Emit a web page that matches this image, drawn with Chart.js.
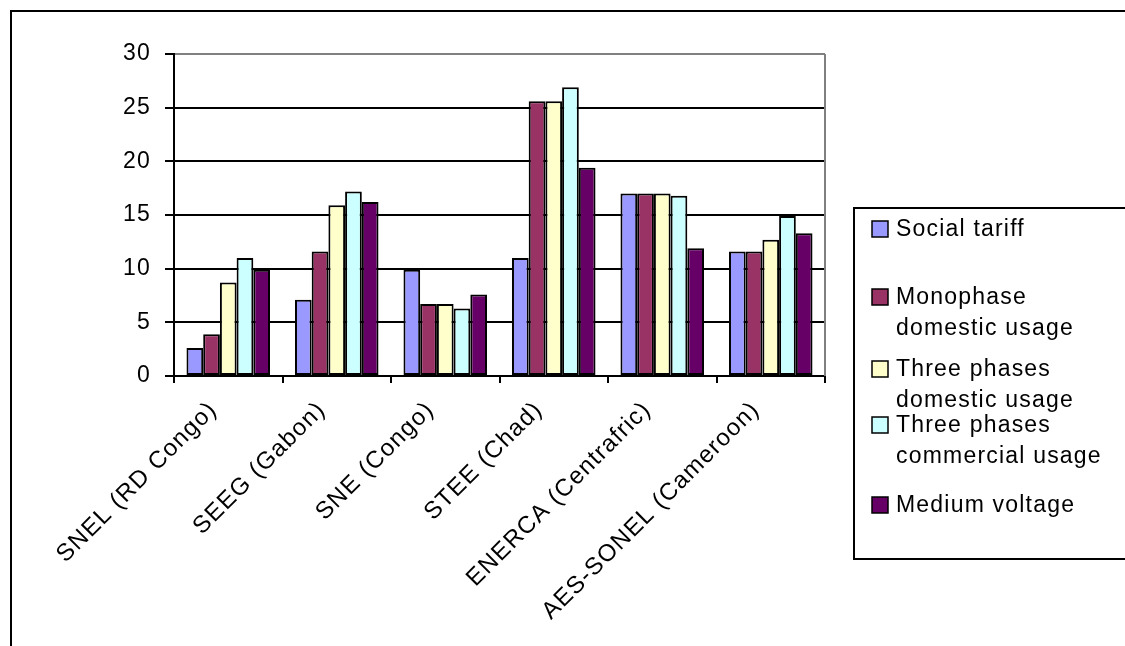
<!DOCTYPE html>
<html><head><meta charset="utf-8">
<script src="https://cdn.jsdelivr.net/npm/chart.js@4/dist/chart.umd.min.js"></script>
<style>html,body{margin:0;padding:0;background:#fff;overflow:hidden;}</style>
</head><body>
<canvas id="c" width="1125" height="646" style="display:block;width:1125px;height:646px"></canvas>
<script>
const categories = ['SNEL (RD Congo)', 'SEEG (Gabon)', 'SNE (Congo)', 'STEE (Chad)', 'ENERCA (Centrafric)', 'AES-SONEL (Cameroon)'];
const socialTariff = [2.6, 7.1, 9.9, 11.0, 17.0, 11.6];
const monophaseDomestic = [3.9, 11.6, 6.7, 25.6, 17.0, 11.6];
const threePhasesDomestic = [8.7, 15.9, 6.7, 25.6, 17.0, 12.7];
const threePhasesCommercial = [11.0, 17.2, 6.3, 26.9, 16.8, 14.9];
const mediumVoltage = [9.9, 16.2, 7.6, 19.4, 11.9, 13.3];
const yTicks = [0, 5, 10, 15, 20, 25, 30];
const seriesLines = [
  ['Social tariff'],
  ['Monophase', 'domestic usage'],
  ['Three phases', 'domestic usage'],
  ['Three phases', 'commercial usage'],
  ['Medium voltage']
];
const seriesValues = [socialTariff, monophaseDomestic, threePhasesDomestic, threePhasesCommercial, mediumVoltage];
const seriesColors = ['#9999FF', '#993366', '#FFFFCC', '#CCFFFF', '#660066'];

const FONT = "'Liberation Sans', Arial, sans-serif";
const SPACING = '1.2px';

const decorPlugin = {
  id: 'decor',
  beforeDraw(chart) {
    const ctx = chart.ctx;
    ctx.letterSpacing = SPACING;
    ctx.save();
    ctx.fillStyle = '#fff';
    ctx.fillRect(0, 0, chart.width, chart.height);
    ctx.strokeStyle = '#000';
    ctx.lineWidth = 2;
    ctx.strokeRect(11, 11, 1300, 900);
    ctx.restore();
  },
  beforeDatasetsDraw(chart) {
    const ctx = chart.ctx, a = chart.chartArea;
    ctx.save();
    ctx.strokeStyle = '#808080';
    ctx.lineWidth = 2;
    ctx.beginPath();
    ctx.moveTo(a.right, a.top);
    ctx.lineTo(a.right, a.bottom);
    ctx.stroke();
    ctx.restore();
  },
  afterDraw(chart) {
    const ctx = chart.ctx;
    ctx.save();
    ctx.letterSpacing = SPACING;
    ctx.strokeStyle = '#000';
    ctx.lineWidth = 2;
    ctx.strokeRect(854, 208, 400, 351);
    const entryY = [229, 297, 369, 425, 505];
    const lineH = 31;
    ctx.font = '23px ' + FONT;
    ctx.textBaseline = 'middle';
    ctx.textAlign = 'left';
    chart.data.datasets.forEach((ds, i) => {
      const y = entryY[i];
      ctx.fillStyle = ds.backgroundColor;
      ctx.fillRect(872, y - 8, 16, 16);
      ctx.strokeStyle = '#000';
      ctx.lineWidth = 1.5;
      ctx.strokeRect(872, y - 8, 16, 16);
      ctx.fillStyle = '#000';
      seriesLines[i].forEach((t, j) => ctx.fillText(t, 896, y + j * lineH + 1));
    });
    ctx.restore();
  }
};

new Chart(document.getElementById('c'), {
  type: 'bar',
  data: {
    labels: categories,
    datasets: seriesValues.map((vals, i) => ({
      label: seriesLines[i].join(' '),
      data: vals,
      backgroundColor: seriesColors[i],
      borderColor: '#000',
      borderWidth: 2,
      borderSkipped: false
    }))
  },
  options: {
    responsive: false,
    devicePixelRatio: 1,
    animation: false,
    events: [],
    layout: { padding: { left: 0, top: 54, right: 300, bottom: 0 } },
    datasets: { bar: { categoryPercentage: 0.77, barPercentage: 1.0 } },
    plugins: { legend: { display: false }, tooltip: { enabled: false }, title: { display: false } },
    scales: {
      x: {
        afterFit(s) { s.height = 270; },
        grid: { display: true, offset: true, drawOnChartArea: false, drawTicks: true, tickLength: 7, color: '#000', lineWidth: 2 },
        border: { display: true, color: '#000', width: 2 },
        ticks: {
          autoSkip: false, minRotation: 45, maxRotation: 45,
          padding: 13, labelOffset: -15,
          color: '#000', font: { family: FONT, size: 24 }
        }
      },
      y: {
        min: 0, max: 30,
        afterFit(s) { s.width = 174; },
        afterBuildTicks(s) { s.ticks = yTicks.map(v => ({ value: v })); },
        grid: {
          color: c => (c.tick && c.tick.value === 30) ? '#808080' : '#000',
          tickColor: '#000', lineWidth: 2, tickLength: 9, drawTicks: true
        },
        border: { display: true, color: '#000', width: 2 },
        ticks: { padding: 14, color: '#000', font: { family: FONT, size: 23 } }
      }
    }
  },
  plugins: [decorPlugin]
});
</script>
</body></html>
